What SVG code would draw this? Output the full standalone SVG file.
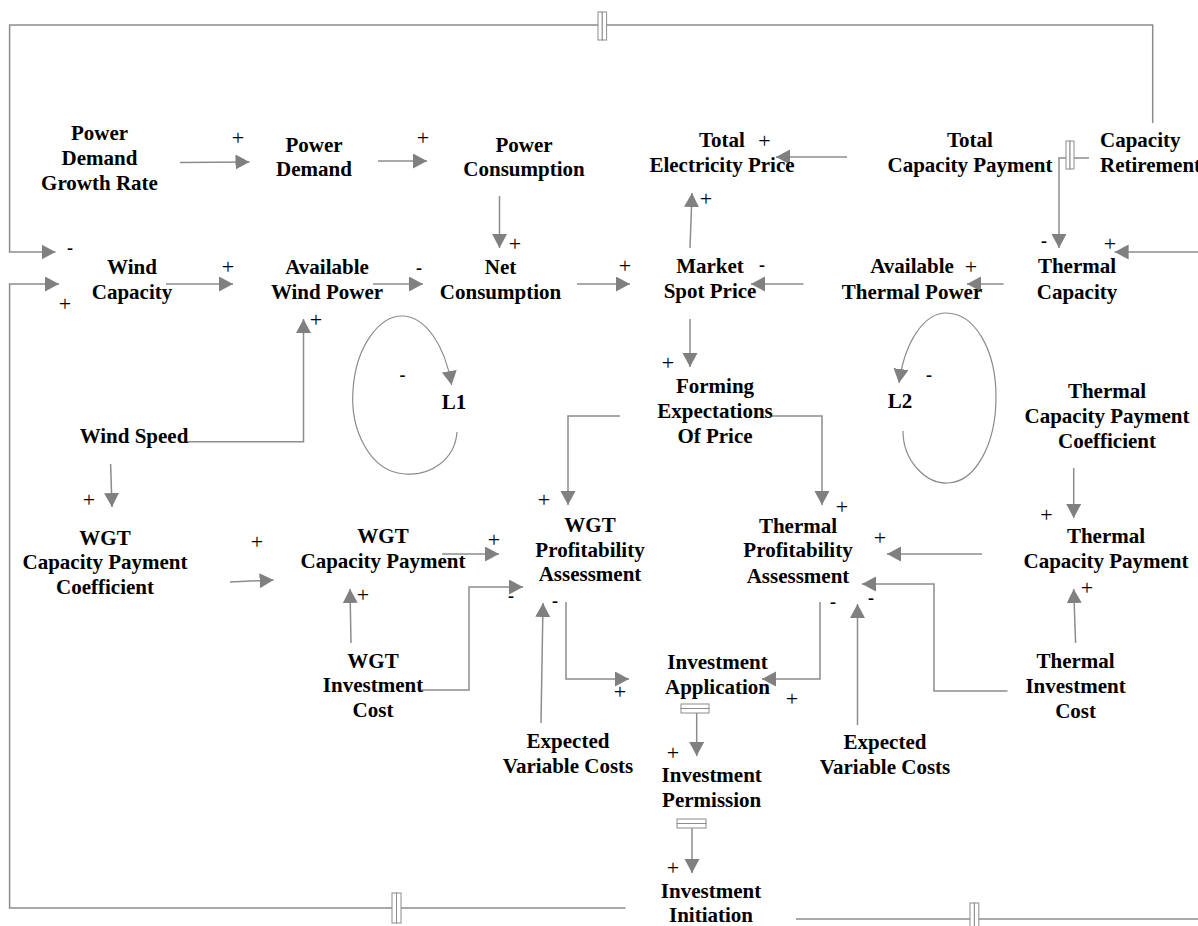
<svg xmlns="http://www.w3.org/2000/svg" width="1198" height="926" viewBox="0 0 1198 926">
<style>
.n{font-family:"Liberation Serif","Times New Roman",serif;font-weight:bold;font-size:21px;fill:#000;text-anchor:middle}
.p{font-family:"Liberation Serif","Times New Roman",serif;font-size:22px;fill:#000;text-anchor:middle}
.m{font-family:"Liberation Serif","Times New Roman",serif;font-weight:bold;font-size:18px;fill:#000;text-anchor:middle}
.c{fill:none;stroke:#8c8c8c;stroke-width:1.5}
.a{marker-end:url(#ah)}
.v{fill:#fff;stroke:#8c8c8c;stroke-width:1}
</style>
<defs>
<marker id="ah" markerUnits="userSpaceOnUse" markerWidth="15" markerHeight="16" refX="14" refY="7.5" orient="auto"><path d="M0,0 L14,7.5 L0,15 z" fill="#808080"/></marker>
</defs>
<rect width="1198" height="926" fill="#fff"/>
<g id="connectors">
<path class="c a" d="M180,162.5 L249.5,162"/>
<path class="c a" d="M378,161 L427,161"/>
<path class="c a" d="M499.5,196 L499.5,248"/>
<path class="c a" d="M1152.7,123 L1152.7,25 L9.6,25 L9.6,252 L55.5,252"/>
<path class="c a" d="M625.5,908 L9.6,908 L9.6,284 L59,284"/>
<path class="c" d="M796,919 L1198,919"/>
<path class="c a" d="M1198,252 L1114.6,252"/>
<path class="c a" d="M166,284 L233,284"/>
<path class="c a" d="M373,284 L423,284"/>
<path class="c a" d="M577,284 L630,284"/>
<path class="c a" d="M803.5,284 L751,284"/>
<path class="c a" d="M1003.6,284 L967,284"/>
<path class="c a" d="M1089,158 L1059,158 L1059,248"/>
<path class="c a" d="M847,157 L776,157"/>
<path class="c a" d="M690,248 L692,193"/>
<path class="c a" d="M187.5,441.7 L303.5,441.7 L303.5,319"/>
<path class="c a" d="M457,432 C455,460 430,476 405,474 C370,472 350,430 353,390 C356,345 380,316 402,316 C425,316 445,345 451.6,385" style="stroke-width:1.2"/>
<path class="c a" d="M903,431 C903,460 925,484 948,483 C975,482 996,445 996,397 C996,350 975,313 946,313 C925,313 905,340 899,383" style="stroke-width:1.2"/>
<path class="c a" d="M690,319 L690,367"/>
<path class="c a" d="M620,416 L568,416 L568,505"/>
<path class="c a" d="M772,416 L822,416 L822,505"/>
<path class="c a" d="M110.6,464 L112,507"/>
<path class="c a" d="M230,582 L273.6,580"/>
<path class="c a" d="M442,554 L499,554"/>
<path class="c a" d="M421,690 L469,690 L469,587 L523,587"/>
<path class="c a" d="M351,643 L350,589"/>
<path class="c a" d="M541,723 L543,603"/>
<path class="c a" d="M566,602 L566,679 L629,679"/>
<path class="c a" d="M820,602 L820,679 L762,679"/>
<path class="c a" d="M982,554 L887,554"/>
<path class="c a" d="M1007.5,691 L934,691 L934,584 L862,584"/>
<path class="c a" d="M857.5,725 L857.5,604"/>
<path class="c a" d="M1073.7,468 L1073.7,518"/>
<path class="c a" d="M1075.6,643 L1073.7,589"/>
<path class="c a" d="M696.7,713 L696.7,756"/>
<path class="c a" d="M692,828 L692,873"/>
<rect class="v" x="598" y="12" width="4.3" height="28"/><rect class="v" x="602.3" y="12" width="4.3" height="28"/>
<rect class="v" x="1066" y="141" width="4" height="28"/><rect class="v" x="1070" y="141" width="4" height="28"/>
<rect class="v" x="392" y="893" width="4.5" height="30"/><rect class="v" x="396.5" y="893" width="4.5" height="30"/>
<rect class="v" x="970" y="903" width="4.4" height="24"/><rect class="v" x="974.4" y="903" width="4.4" height="24"/>
<rect class="v" x="681" y="704" width="28" height="4.5"/><rect class="v" x="681" y="708.5" width="28" height="4.5"/>
<rect class="v" x="677" y="819" width="29" height="4.5"/><rect class="v" x="677" y="823.5" width="29" height="4.5"/>
</g>
<g id="signs">
<text class="p" x="238" y="145">+</text>
<text class="p" x="423" y="145">+</text>
<text class="p" x="515" y="251">+</text>
<text class="m" x="70" y="254">-</text>
<text class="p" x="65" y="311">+</text>
<text class="p" x="228" y="274">+</text>
<text class="m" x="419" y="274">-</text>
<text class="p" x="625" y="273">+</text>
<text class="m" x="762" y="271">-</text>
<text class="p" x="971" y="274">+</text>
<text class="m" x="1044" y="247">-</text>
<text class="p" x="1110" y="251">+</text>
<text class="p" x="764.5" y="148">+</text>
<text class="p" x="706" y="206">+</text>
<text class="p" x="316" y="327">+</text>
<text class="m" x="402.6" y="381">-</text>
<text class="m" x="929" y="381">-</text>
<text class="p" x="668" y="370">+</text>
<text class="p" x="89" y="507">+</text>
<text class="p" x="257" y="549">+</text>
<text class="p" x="494" y="547">+</text>
<text class="p" x="544" y="507">+</text>
<text class="m" x="511" y="602">-</text>
<text class="p" x="363" y="602">+</text>
<text class="m" x="555" y="607">-</text>
<text class="p" x="620" y="699">+</text>
<text class="p" x="842" y="514">+</text>
<text class="p" x="880" y="545">+</text>
<text class="m" x="833" y="608">-</text>
<text class="m" x="871" y="604">-</text>
<text class="p" x="792" y="706">+</text>
<text class="p" x="1046.5" y="522">+</text>
<text class="p" x="1087" y="595">+</text>
<text class="p" x="673" y="760">+</text>
<text class="p" x="673" y="875">+</text>
</g>
<g id="power-demand-growth-rate"><text class="n" x="99.5" y="140">Power</text><text class="n" x="99.5" y="165">Demand</text><text class="n" x="99.5" y="190">Growth Rate</text></g>
<g id="power-demand"><text class="n" x="314" y="152">Power</text><text class="n" x="314" y="176">Demand</text></g>
<g id="power-consumption"><text class="n" x="524" y="152">Power</text><text class="n" x="524" y="176">Consumption</text></g>
<g id="total-electricity-price"><text class="n" x="722" y="147">Total</text><text class="n" x="722" y="172">Electricity Price</text></g>
<g id="total-capacity-payment"><text class="n" x="970" y="147">Total</text><text class="n" x="970" y="172">Capacity Payment</text></g>
<g id="capacity-retirement"><text class="n" x="1100" y="147" style="text-anchor:start">Capacity</text><text class="n" x="1100" y="172" style="text-anchor:start">Retirement</text></g>
<g id="wind-capacity"><text class="n" x="132" y="274">Wind</text><text class="n" x="132" y="299">Capacity</text></g>
<g id="available-wind-power"><text class="n" x="327" y="274">Available</text><text class="n" x="327" y="299">Wind Power</text></g>
<g id="net-consumption"><text class="n" x="500.5" y="274">Net</text><text class="n" x="500.5" y="299">Consumption</text></g>
<g id="market-spot-price"><text class="n" x="710" y="273">Market</text><text class="n" x="710" y="298">Spot Price</text></g>
<g id="available-thermal-power"><text class="n" x="912" y="273">Available</text><text class="n" x="912" y="299">Thermal Power</text></g>
<g id="thermal-capacity"><text class="n" x="1077" y="273">Thermal</text><text class="n" x="1077" y="299">Capacity</text></g>
<g id="loop-l1"><text class="n" x="454" y="409">L1</text></g>
<g id="loop-l2"><text class="n" x="900" y="408">L2</text></g>
<g id="forming-expectations-of-price"><text class="n" x="715" y="393">Forming</text><text class="n" x="715" y="418">Expectations</text><text class="n" x="715" y="443">Of Price</text></g>
<g id="wind-speed"><text class="n" x="134" y="443">Wind Speed</text></g>
<g id="thermal-capacity-payment-coefficient"><text class="n" x="1107" y="398">Thermal</text><text class="n" x="1107" y="423">Capacity Payment</text><text class="n" x="1107" y="448">Coefficient</text></g>
<g id="wgt-capacity-payment-coefficient"><text class="n" x="105" y="545">WGT</text><text class="n" x="105" y="569">Capacity Payment</text><text class="n" x="105" y="594">Coefficient</text></g>
<g id="wgt-capacity-payment"><text class="n" x="383" y="543">WGT</text><text class="n" x="383" y="568">Capacity Payment</text></g>
<g id="wgt-profitability-assessment"><text class="n" x="590" y="532">WGT</text><text class="n" x="590" y="557">Profitability</text><text class="n" x="590" y="581">Assessment</text></g>
<g id="thermal-profitability-assessment"><text class="n" x="798" y="533">Thermal</text><text class="n" x="798" y="557">Profitability</text><text class="n" x="798" y="583">Assessment</text></g>
<g id="thermal-capacity-payment"><text class="n" x="1106" y="543">Thermal</text><text class="n" x="1106" y="568">Capacity Payment</text></g>
<g id="wgt-investment-cost"><text class="n" x="373" y="668">WGT</text><text class="n" x="373" y="692">Investment</text><text class="n" x="373" y="717">Cost</text></g>
<g id="expected-variable-costs-wgt"><text class="n" x="568" y="748">Expected</text><text class="n" x="568" y="773">Variable Costs</text></g>
<g id="investment-application"><text class="n" x="717.5" y="669">Investment</text><text class="n" x="717.5" y="694">Application</text></g>
<g id="expected-variable-costs-thermal"><text class="n" x="885" y="749">Expected</text><text class="n" x="885" y="774">Variable Costs</text></g>
<g id="thermal-investment-cost"><text class="n" x="1075.6" y="668">Thermal</text><text class="n" x="1075.6" y="693">Investment</text><text class="n" x="1075.6" y="718">Cost</text></g>
<g id="investment-permission"><text class="n" x="711.7" y="782">Investment</text><text class="n" x="711.7" y="807">Permission</text></g>
<g id="investment-initiation"><text class="n" x="711" y="898">Investment</text><text class="n" x="711" y="922">Initiation</text></g>
</svg>
